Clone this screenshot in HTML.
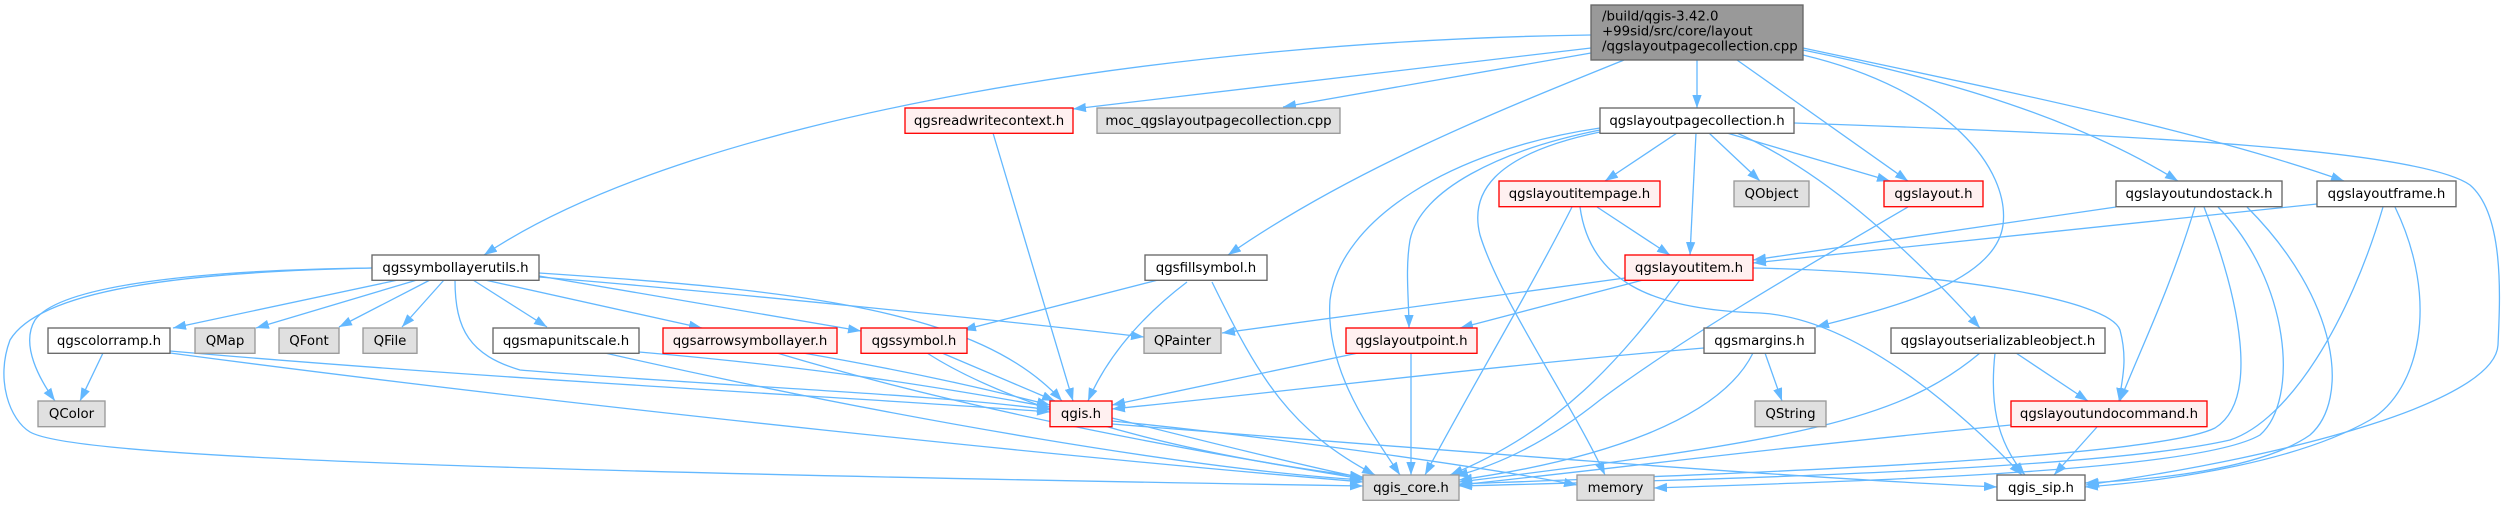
<!DOCTYPE html>
<html><head><meta charset="utf-8"><style>
html,body{margin:0;padding:0;background:#fff;}
svg{display:block;}
text{font-family:"DejaVu Sans","Liberation Sans",sans-serif;font-size:13.33px;fill:#000;}
.e{fill:none;stroke:#63b8ff;stroke-width:1.3;}
.w{fill:#fff;stroke:#666;stroke-width:1.33;}
.r{fill:#fff0f0;stroke:#ff0000;stroke-width:1.33;}
.g{fill:#e0e0e0;stroke:#999;stroke-width:1.33;}
.m{fill:#999;stroke:#666;stroke-width:1.33;}
</style></head><body>
<svg width="2501" height="505" viewBox="0 0 2501 505" xmlns="http://www.w3.org/2000/svg">
<defs><marker id="a" markerWidth="13" markerHeight="10" refX="13" refY="4.65" orient="auto" markerUnits="userSpaceOnUse"><path d="M0,0 L13,4.65 L0,9.3 z" fill="#63b8ff"/></marker></defs>
<g marker-end="url(#a)">
<path class="e" d="M1697,60 L1697,108"/>
<path class="e" d="M1591,35 C1200,40 700,110 484,255"/>
<path class="e" d="M1591,48 L1073,109"/>
<path class="e" d="M1591,53 L1283,107"/>
<path class="e" d="M1624,60 C1500,110 1350,170 1228,255"/>
<path class="e" d="M1737,60 L1908,181"/>
<path class="e" d="M1803,55 C1950,90 2010,170 2003,225 C1995,285 1880,310 1816,327"/>
<path class="e" d="M1803,50 C1950,80 2080,120 2178,181"/>
<path class="e" d="M1803,48 C2000,90 2200,130 2344,181"/>
<path class="e" d="M1677,133 L1605,181"/>
<path class="e" d="M1696,133 L1690,255"/>
<path class="e" d="M1709,133 L1760,181"/>
<path class="e" d="M1727,133 L1890,181"/>
<path class="e" d="M1737,133 C1820,170 1900,240 1980,328"/>
<path class="e" d="M1794,123 C2150,135 2420,150 2470,185 C2505,215 2500,300 2498,345 C2495,400 2300,455 2086,485"/>
<path class="e" d="M1600,128 C1450,150 1340,220 1330,300 C1325,370 1370,430 1400,475"/>
<path class="e" d="M1600,130 C1500,150 1420,190 1410,240 C1405,270 1409,300 1409,328"/>
<path class="e" d="M1600,132 C1490,155 1470,195 1480,235 C1500,300 1570,400 1605,475"/>
<path class="e" d="M1597,207 L1670,255"/>
<path class="e" d="M1572,207 C1530,290 1470,390 1425,475"/>
<path class="e" d="M1580,207 C1590,280 1650,310 1760,313 C1850,318 1950,400 2022,475"/>
<path class="e" d="M1625,278 L1222,333"/>
<path class="e" d="M1643,280 L1460,328"/>
<path class="e" d="M1680,280 C1620,360 1560,430 1450,475"/>
<path class="e" d="M1753,268 C1950,272 2110,300 2120,330 C2128,360 2122,380 2119,401"/>
<path class="e" d="M2116,207 L1753,260"/>
<path class="e" d="M2195,207 C2170,290 2140,350 2120,401"/>
<path class="e" d="M2204,207 C2240,300 2260,400 2215,428 C2150,460 1700,475 1459,484"/>
<path class="e" d="M2218,207 C2290,280 2300,400 2260,435 C2200,470 1900,480 1654,488"/>
<path class="e" d="M2247,207 C2340,300 2350,400 2310,435 C2260,470 2150,480 2085,483"/>
<path class="e" d="M2317,204 L1753,263"/>
<path class="e" d="M2383,207 C2350,320 2290,420 2230,440 C2100,470 1700,480 1459,486"/>
<path class="e" d="M2395,207 C2440,300 2420,390 2370,420 C2300,460 2180,480 2085,487"/>
<path class="e" d="M2016,353 L2088,401"/>
<path class="e" d="M1995,353 C1990,400 1995,440 2025,475"/>
<path class="e" d="M1980,353 C1900,420 1800,440 1459,482"/>
<path class="e" d="M2097,427 L2054,475"/>
<path class="e" d="M2011,425 C1800,445 1600,470 1459,485"/>
<path class="e" d="M1765,353 L1782,401"/>
<path class="e" d="M1704,348 C1500,365 1300,390 1112,409"/>
<path class="e" d="M1753,353 C1720,420 1600,460 1459,480"/>
<path class="e" d="M1908,207 C1800,270 1680,340 1600,400 C1550,440 1500,465 1455,476"/>
<path class="e" d="M993,133 L1073,401"/>
<path class="e" d="M1158,280 L963,330"/>
<path class="e" d="M1187,282 C1150,310 1110,350 1088,401"/>
<path class="e" d="M1212,282 C1260,380 1290,430 1375,475"/>
<path class="e" d="M1358,353 L1112,405"/>
<path class="e" d="M1411,353 L1411,475"/>
<path class="e" d="M398,280 L173,328"/>
<path class="e" d="M417,280 L256,328"/>
<path class="e" d="M430,280 L339,327"/>
<path class="e" d="M444,280 L402,327"/>
<path class="e" d="M372,268 C200,270 60,285 35,320 C20,345 40,380 55,401"/>
<path class="e" d="M372,268 C180,272 40,290 10,340 C-5,380 10,420 30,432 C70,455 400,470 1363,486"/>
<path class="e" d="M473,280 L547,327"/>
<path class="e" d="M485,280 L702,328"/>
<path class="e" d="M539,276 L861,331"/>
<path class="e" d="M539,277 C700,290 1000,320 1144,337"/>
<path class="e" d="M539,273 C800,290 980,310 1062,401"/>
<path class="e" d="M455,280 C455,330 470,355 520,370 C700,385 950,395 1050,410"/>
<path class="e" d="M103,353 L80,401"/>
<path class="e" d="M170,351 C500,380 900,400 1050,412"/>
<path class="e" d="M170,353 C600,410 1100,460 1363,482"/>
<path class="e" d="M639,352 C850,370 980,395 1050,407"/>
<path class="e" d="M605,353 C900,420 1200,470 1363,480"/>
<path class="e" d="M803,353 C930,375 1010,395 1050,405"/>
<path class="e" d="M777,353 C1000,420 1250,460 1363,479"/>
<path class="e" d="M942,353 L1055,401"/>
<path class="e" d="M927,353 C1000,400 1150,450 1363,477"/>
<path class="e" d="M1112,418 C1200,440 1300,465 1363,478"/>
<path class="e" d="M1112,421 C1300,440 1500,470 1577,485"/>
<path class="e" d="M1112,424 C1500,455 1800,478 1997,487"/>
</g>
<!-- nodes -->
<rect class="m" x="1591" y="5" width="212" height="55"/>
<text x="1602" y="20.5">/build/qgis-3.42.0</text>
<text x="1602" y="35.5">+99sid/src/core/layout</text>
<text x="1602" y="50.5">/qgslayoutpagecollection.cpp</text>

<rect class="w" x="1600" y="108" width="194" height="25.3"/><text x="1697" y="125" text-anchor="middle">qgslayoutpagecollection.h</text>
<rect class="r" x="905" y="108" width="168" height="25.3"/><text x="989" y="125" text-anchor="middle">qgsreadwritecontext.h</text>
<rect class="g" x="1097" y="108" width="243" height="25.3"/><text x="1218.5" y="125" text-anchor="middle">moc_qgslayoutpagecollection.cpp</text>

<rect class="r" x="1499" y="181" width="161" height="25.7"/><text x="1579.5" y="198" text-anchor="middle">qgslayoutitempage.h</text>
<rect class="g" x="1734" y="181" width="75" height="25.7"/><text x="1771.5" y="198" text-anchor="middle">QObject</text>
<rect class="r" x="1884" y="181" width="99" height="25.7"/><text x="1933.5" y="198" text-anchor="middle">qgslayout.h</text>
<rect class="w" x="2116" y="181" width="166" height="25.7"/><text x="2199" y="198" text-anchor="middle">qgslayoutundostack.h</text>
<rect class="w" x="2317" y="181" width="139" height="25.7"/><text x="2386.5" y="198" text-anchor="middle">qgslayoutframe.h</text>

<rect class="w" x="372" y="255" width="167" height="25.3"/><text x="455.5" y="272" text-anchor="middle">qgssymbollayerutils.h</text>
<rect class="w" x="1145" y="255" width="122" height="25.3"/><text x="1206" y="272" text-anchor="middle">qgsfillsymbol.h</text>
<rect class="r" x="1625" y="255" width="128" height="25.3"/><text x="1689" y="272" text-anchor="middle">qgslayoutitem.h</text>

<rect class="w" x="48" y="328" width="122" height="25.3"/><text x="109" y="345" text-anchor="middle">qgscolorramp.h</text>
<rect class="g" x="195" y="328" width="60" height="25.3"/><text x="225" y="345" text-anchor="middle">QMap</text>
<rect class="g" x="279" y="328" width="60" height="25.3"/><text x="309" y="345" text-anchor="middle">QFont</text>
<rect class="g" x="363" y="328" width="54" height="25.3"/><text x="390" y="345" text-anchor="middle">QFile</text>
<rect class="w" x="493" y="328" width="146" height="25.3"/><text x="566" y="345" text-anchor="middle">qgsmapunitscale.h</text>
<rect class="r" x="663" y="328" width="174" height="25.3"/><text x="750" y="345" text-anchor="middle">qgsarrowsymbollayer.h</text>
<rect class="r" x="861" y="328" width="106" height="25.3"/><text x="914" y="345" text-anchor="middle">qgssymbol.h</text>
<rect class="g" x="1144" y="328" width="77" height="25.3"/><text x="1182.5" y="345" text-anchor="middle">QPainter</text>
<rect class="r" x="1346" y="328" width="131" height="25.3"/><text x="1411.5" y="345" text-anchor="middle">qgslayoutpoint.h</text>
<rect class="w" x="1704" y="328" width="111" height="25.3"/><text x="1759.5" y="345" text-anchor="middle">qgsmargins.h</text>
<rect class="w" x="1891" y="328" width="214" height="25.3"/><text x="1998" y="345" text-anchor="middle">qgslayoutserializableobject.h</text>

<rect class="g" x="38" y="401" width="67" height="25.7"/><text x="71.5" y="418" text-anchor="middle">QColor</text>
<rect class="r" x="1050" y="401" width="62" height="25.7"/><text x="1081" y="418" text-anchor="middle">qgis.h</text>
<rect class="g" x="1755" y="401" width="71" height="25.7"/><text x="1790.5" y="418" text-anchor="middle">QString</text>
<rect class="r" x="2011" y="401" width="196" height="25.7"/><text x="2109" y="418" text-anchor="middle">qgslayoutundocommand.h</text>

<rect class="g" x="1363" y="475" width="96" height="25.3"/><text x="1411" y="492" text-anchor="middle">qgis_core.h</text>
<rect class="g" x="1577" y="475" width="77" height="25.3"/><text x="1615.5" y="492" text-anchor="middle">memory</text>
<rect class="w" x="1997" y="475" width="88" height="25.3"/><text x="2041" y="492" text-anchor="middle">qgis_sip.h</text>
</svg>
</body></html>
